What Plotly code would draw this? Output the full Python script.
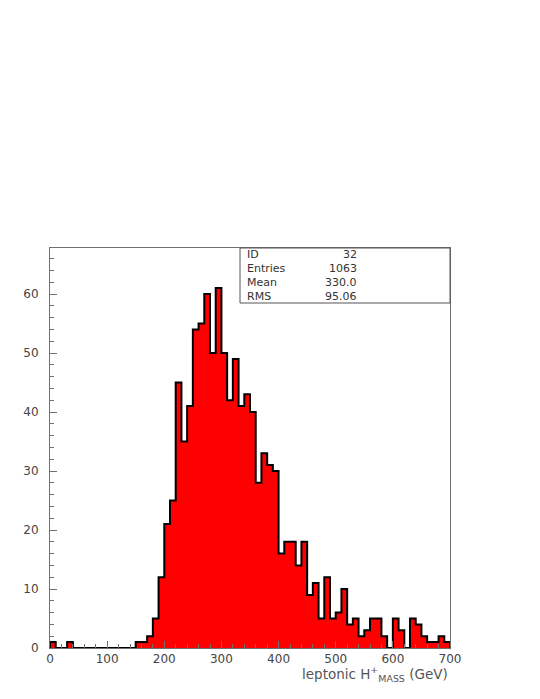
import plotly.graph_objects as go

bin_width = 10
x_min, x_max = 0, 700
counts = [1, 0, 0, 1, 0, 0, 0, 0, 0, 0,
          0, 0, 0, 0, 0, 1, 1, 2, 5, 12,
          21, 25, 45, 35, 41, 54, 55, 60, 50, 61,
          50, 42, 49, 41, 43, 40, 28, 33, 31, 30,
          16, 18, 18, 14, 18, 9, 11, 5, 12, 5,
          6, 10, 4, 5, 2, 3, 5, 5, 2, 0,
          5, 3, 0, 5, 4, 2, 1, 1, 2, 1]
stats_labels = ["ID", "Entries", "Mean", "RMS"]
stats_values = ["32", "1063", "330.0", "95.06"]
x_ticks = [0, 100, 200, 300, 400, 500, 600, 700]
y_ticks = [0, 10, 20, 30, 40, 50, 60]

left_edges = [x_min + i * bin_width for i in range(len(counts))]
xs = [left_edges[0]] + left_edges + [x_max, x_max]
ys = [0] + counts + [counts[-1], 0]

fig = go.Figure()
fig.add_trace(go.Scatter(
    x=xs, y=ys, mode="lines", line=dict(shape="hv", color="black", width=2),
    fill="tozeroy", fillcolor="#ff0000", hoverinfo="skip", showlegend=False))

font_family = "DejaVu Sans, Liberation Sans, sans-serif"
axis_common = dict(showline=True, linecolor="#707070", linewidth=1, mirror=True,
                   ticks="inside", tickcolor="#707070", showgrid=False, zeroline=False,
                   tickfont=dict(family=font_family, size=12, color="#444"))

fig.update_layout(
    width=540, height=699,
    margin=dict(l=42, r=98, t=240, b=59),
    paper_bgcolor="white", plot_bgcolor="white",
    font=dict(family=font_family, color="#444"),
    xaxis=dict(range=[x_min, x_max], tickvals=x_ticks, ticklen=7,
               minor=dict(dtick=20, ticklen=4, ticks="inside", tickcolor="#707070"),
               **axis_common),
    yaxis=dict(range=[0, 67.8], tickvals=y_ticks, ticklen=7, ticklabelstandoff=8,
               minor=dict(dtick=2, ticklen=4, ticks="inside", tickcolor="#707070"),
               **axis_common),
)

# stats box
box_x0 = 0.475
box_y0 = 1 - 55 / 400
fig.add_shape(type="rect", xref="paper", yref="paper", x0=box_x0, x1=1, y0=box_y0, y1=1,
              line=dict(color="#555", width=1), fillcolor="white")
row_h = (1 - box_y0) / len(stats_labels)
for i, (lab, val) in enumerate(zip(stats_labels, stats_values)):
    yc = 1 - row_h * (i + 0.5)
    fig.add_annotation(xref="paper", yref="paper", x=box_x0 + 0.013, y=yc, text=lab,
                       showarrow=False, xanchor="left", yanchor="middle",
                       font=dict(family=font_family, size=11, color="#333"))
    fig.add_annotation(xref="paper", yref="paper", x=0.773, y=yc, text=val,
                       showarrow=False, xanchor="right", yanchor="middle",
                       font=dict(family=font_family, size=11, color="#333"))

fig.add_annotation(xref="paper", yref="paper", x=1.0, y=-0.035,
                   text="leptonic H<sup>+</sup><sub>MASS</sub> (GeV)",
                   showarrow=False, xanchor="right", yanchor="top",
                   font=dict(family=font_family, size=13.5, color="#555"))

fig.write_html("out.html")
